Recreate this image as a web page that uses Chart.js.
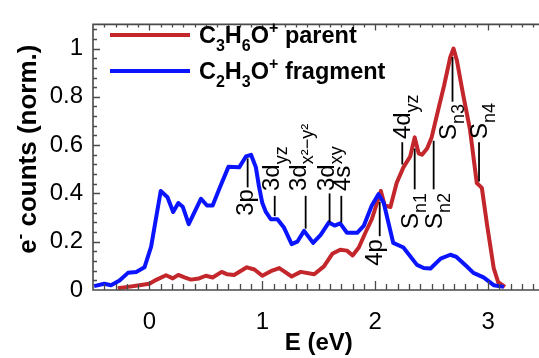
<!DOCTYPE html>
<html>
<head>
<meta charset="utf-8">
<script src="https://cdn.jsdelivr.net/npm/chart.js@4"></script>
<style>
  html, body { margin: 0; padding: 0; background: #fff; overflow: hidden; }
  #wrap { width: 560px; height: 358px; }
</style>
</head>
<body>
<div id="wrap"><canvas id="chart" width="560" height="358"></canvas></div>
<script>
// C2H3O+ fragment (blue)
const fragX = [-0.49, -0.40, -0.34, -0.265, -0.19, -0.117, -0.044, 0.015, 0.10, 0.16, 0.21, 0.256, 0.295, 0.348,
  0.457, 0.51, 0.56, 0.62, 0.70, 0.795, 0.855, 0.90, 0.943, 0.97, 1.0, 1.03, 1.075, 1.134, 1.19, 1.26, 1.31, 1.37,
  1.45, 1.517, 1.59, 1.64, 1.69, 1.75, 1.84, 1.90, 1.97, 2.03, 2.076, 2.12, 2.16, 2.25, 2.37, 2.43, 2.49, 2.58,
  2.665, 2.72, 2.81, 2.87, 2.96, 3.05, 3.14];
const fragY = [0.016, 0.026, 0.020, 0.039, 0.071, 0.075, 0.094, 0.18, 0.41, 0.384, 0.323, 0.36, 0.345, 0.273,
  0.378, 0.35, 0.35, 0.42, 0.51, 0.508, 0.553, 0.56, 0.508, 0.43, 0.36, 0.325, 0.293, 0.293, 0.26, 0.19, 0.20, 0.245,
  0.195, 0.228, 0.28, 0.267, 0.276, 0.237, 0.237, 0.267, 0.35, 0.397, 0.36, 0.273, 0.195, 0.176, 0.104, 0.091, 0.089, 0.13,
  0.146, 0.137, 0.098, 0.071, 0.052, 0.02, 0.013];

// C3H6O+ parent (red)
const parentX = [-0.28, -0.19, -0.088, 0.0, 0.06, 0.147, 0.207, 0.256, 0.31, 0.368, 0.44, 0.50, 0.56, 0.64, 0.69,
  0.75, 0.863, 0.93, 1.0, 1.075, 1.15, 1.19, 1.26, 1.34, 1.46, 1.546, 1.62, 1.69, 1.75, 1.80, 1.855, 1.91, 1.97,
  2.05, 2.085, 2.135, 2.19, 2.25, 2.31, 2.35, 2.385, 2.415, 2.46, 2.50, 2.55, 2.61, 2.665, 2.694, 2.724, 2.78, 2.84,
  2.90, 2.945, 2.99, 3.05, 3.09, 3.15];
const parentY = [0.007, 0.013, 0.02, 0.026, 0.042, 0.061, 0.048, 0.0625, 0.052, 0.043, 0.048, 0.059, 0.052, 0.075, 0.065,
  0.0625, 0.094, 0.085, 0.059, 0.078, 0.091, 0.078, 0.056, 0.075, 0.065, 0.098, 0.15, 0.167, 0.163, 0.143, 0.176, 0.234, 0.293,
  0.41, 0.35, 0.344, 0.443, 0.508, 0.553, 0.632, 0.566, 0.56, 0.586, 0.632, 0.73, 0.846, 0.964, 1.0, 0.95, 0.807, 0.664,
  0.443, 0.423, 0.273, 0.091, 0.032, 0.013];

const xTicks = [0, 1, 2, 3];
const yTicks = [0, 0.2, 0.4, 0.6, 0.8, 1];

// state labels: main text, subscript, marker energy and span, label energy and anchor, side
const annoText = ['3p', '3d', '3d', '3d', '4s', '4p', '4d', 'S', 'S', 'S', 'S'];
const annoSub = ['', 'yz', 'x\u00b2\u2212y\u00b2', 'xy', '', '', 'yz', 'n1', 'n2', 'n3', 'n4'];
const annoX = [0.87, 1.11, 1.384, 1.596, 1.70, 2.04, 2.24, 2.35, 2.518, 2.685, 2.92];
const annoFrom = [0.545, 0.39, 0.39, 0.40, 0.39, 0.365, 0.612, 0.586, 0.618, 0.965, 0.612];
const annoTo = [0.425, 0.306, 0.254, 0.28, 0.28, 0.223, 0.52, 0.417, 0.417, 0.78, 0.449];
const annoLabelX = [0.916, 1.148, 1.384, 1.637, 1.78, 2.056, 2.31, 2.38, 2.594, 2.72, 2.99];
const annoAt = [0.418, 0.41, 0.41, 0.41, 0.41, 0.211, 0.625, 0.402, 0.402, 0.77, 0.625];
const annoSide = ['below', 'above', 'above', 'above', 'above', 'below', 'above', 'below', 'below', 'below', 'above'];

const RED = '#c3262b';
const BLUE = '#0a14ff';
const FONT = '"Liberation Sans", Arial, sans-serif';

const pts = (xs, ys) => xs.map((x, i) => ({ x: x, y: ys[i] }));

// text pieces: [text, 'n' | 'sub' | 'sup']
function rich(ctx, parts, size, bold, x0, draw, ratio) {
    let xx = x0;
    for (const [t, k] of parts) {
        const s = k === 'n' ? size : Math.round(size * (ratio || 0.66));
        ctx.font = (bold ? 'bold ' : '') + s + 'px ' + FONT;
        const dy = k === 'sub' ? size * 0.32 : k === 'sup' ? -size * 0.42 : 0;
        if (draw) ctx.fillText(t, xx, dy);
        xx += ctx.measureText(t).width;
    }
    return xx - x0;
}

const decor = {
    id: 'decor',
    afterDatasetsDraw(chart) {
        const { ctx, chartArea: a, scales: { x, y } } = chart;
        ctx.save();
        ctx.strokeStyle = '#4a4a4a';
        ctx.lineWidth = 1.6;
        ctx.beginPath();
        ctx.moveTo(a.right + 20, a.top); ctx.lineTo(a.left, a.top); ctx.lineTo(a.left, a.bottom); ctx.lineTo(a.right + 20, a.bottom);
        ctx.stroke();
        ctx.lineWidth = 1.3;
        ctx.beginPath();
        for (let i = -4; i <= 35; i++) {
            const px = Math.round(x.getPixelForValue(i / 10)) + 0.5;
            const major = i % 10 === 0;
            ctx.moveTo(px, a.bottom); ctx.lineTo(px, a.bottom - (major ? 9 : 6));
            ctx.moveTo(px, a.top); ctx.lineTo(px, a.top + (major ? 6 : 3));
        }
        for (let i = 1; i <= 27; i++) {
            const py = Math.round(y.getPixelForValue(i * 0.04)) + 0.5;
            const major = i % 5 === 0;
            ctx.moveTo(a.left, py); ctx.lineTo(a.left + (major ? 7 : 4), py);
        }
        ctx.stroke();

        // state markers
        ctx.strokeStyle = '#000';
        ctx.fillStyle = '#000';
        ctx.lineWidth = 1.8;
        for (let i = 0; i < annoX.length; i++) {
            const px = x.getPixelForValue(annoX[i]);
            ctx.beginPath();
            ctx.moveTo(px, y.getPixelForValue(annoFrom[i]));
            ctx.lineTo(px, y.getPixelForValue(annoTo[i]));
            ctx.stroke();
            const parts = [[annoText[i], 'n']];
            if (annoSub[i]) parts.push([annoSub[i], 'sub']);
            ctx.save();
            ctx.translate(x.getPixelForValue(annoLabelX[i]), y.getPixelForValue(annoAt[i]));
            ctx.rotate(-Math.PI / 2);
            ctx.textBaseline = 'alphabetic';
            ctx.textAlign = 'left';
            const w = rich(ctx, parts, 24, false, 0, false, 0.76);
            rich(ctx, parts, 24, false, annoSide[i] === 'above' ? 0 : -w, true, 0.76);
            ctx.restore();
        }

        // legend
        const legend = [
            [RED, [['C', 'n'], ['3', 'sub'], ['H', 'n'], ['6', 'sub'], ['O', 'n'], ['+', 'sup'], [' parent', 'n']]],
            [BLUE, [['C', 'n'], ['2', 'sub'], ['H', 'n'], ['3', 'sub'], ['O', 'n'], ['+', 'sup'], [' fragment', 'n']]]
        ];
        legend.forEach(([col, parts], k) => {
            const ly = 35 + k * 36;
            ctx.strokeStyle = col;
            ctx.lineWidth = 4;
            ctx.beginPath(); ctx.moveTo(110, ly); ctx.lineTo(190, ly); ctx.stroke();
            ctx.save();
            ctx.translate(199, ly + 8);
            ctx.fillStyle = '#000';
            rich(ctx, parts, 23.5, true, 0, true);
            ctx.restore();
        });

        // y axis title
        ctx.save();
        const yt = [['e', 'n'], ['-', 'sup'], [' counts (norm.)', 'n']];
        ctx.translate(36, (a.top + a.bottom) / 2 - 8);
        ctx.rotate(-Math.PI / 2);
        ctx.fillStyle = '#000';
        const tw = rich(ctx, yt, 26, true, 0, false);
        rich(ctx, yt, 26, true, -tw / 2, true);
        ctx.restore();
        ctx.restore();
    }
};

new Chart(document.getElementById('chart'), {
    type: 'line',
    data: {
        datasets: [
            { label: 'C2H3O+ fragment', data: pts(fragX, fragY), borderColor: BLUE, borderWidth: 4, borderJoinStyle: 'round', pointRadius: 0, tension: 0, fill: false },
            { label: 'C3H6O+ parent', data: pts(parentX, parentY), borderColor: RED, borderWidth: 4, borderJoinStyle: 'round', pointRadius: 0, tension: 0, fill: false }
        ]
    },
    options: {
        responsive: false,
        devicePixelRatio: 1,
        animation: false,
        layout: { padding: { top: 8, right: 15.5, left: 0, bottom: 0 } },
        plugins: { legend: { display: false }, tooltip: { enabled: false } },
        scales: {
            x: {
                type: 'linear',
                min: -0.5,
                max: 3.5,
                afterBuildTicks: (s) => { s.ticks = xTicks.map(v => ({ value: v })); },
                afterFit: (s) => { s.height = 68; },
                grid: { display: false, drawTicks: false },
                border: { display: false },
                ticks: { color: '#000', padding: 18, font: { family: FONT, size: 24 }, callback: (v) => String(v) },
                title: { display: true, text: 'E (eV)', color: '#000', padding: { top: 0, bottom: 0 }, font: { family: FONT, size: 24, weight: 'bold' } }
            },
            y: {
                min: 0,
                max: 1.1,
                afterBuildTicks: (s) => { s.ticks = yTicks.map(v => ({ value: v })); },
                afterFit: (s) => { s.width = 93; },
                grid: { display: false, drawTicks: false },
                border: { display: false },
                ticks: { color: '#000', padding: 10, font: { family: FONT, size: 24 }, callback: (v) => String(+v.toFixed(2)) }
            }
        }
    },
    plugins: [decor]
});
</script>
</body>
</html>
